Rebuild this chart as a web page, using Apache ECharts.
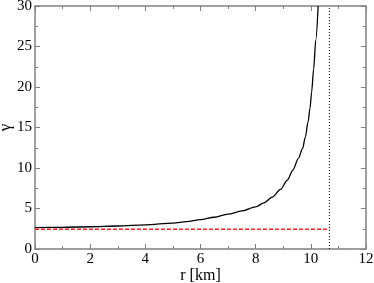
<!DOCTYPE html>
<html><head><meta charset="utf-8">
<script src="https://cdn.jsdelivr.net/npm/echarts@6/dist/echarts.min.js"></script>
<style>html,body{margin:0;padding:0;background:#fff}#c{width:374px;height:283px}</style>
</head><body><div id="c"></div>
<script>
const curveR = [0, 1, 2, 3, 4, 5, 5.5, 6, 6.5, 7, 7.5, 8, 8.3, 8.6, 8.9, 9.15, 9.35, 9.55, 9.7, 9.8, 9.9, 9.97, 10.03, 10.1, 10.18, 10.265];
const curveGamma = [2.65, 2.68, 2.75, 2.84, 2.98, 3.2, 3.38, 3.62, 3.92, 4.3, 4.7, 5.2, 5.7, 6.4, 7.35, 8.5, 9.75, 11.2, 12.4, 13.8, 15.7, 17.4, 19.4, 22.2, 25.8, 30];
const limitR = [0, 10.67];
const limitGamma = [2.43, 2.43];
const edgeR = [10.675, 10.675];
const edgeGamma = [0, 30];
const xTicks = [0, 2, 4, 6, 8, 10, 12];
const yTicks = [0, 5, 10, 15, 20, 25, 30];

const pair = (a, b) => a.map((v, i) => [v, b[i]]);
const font = 'Liberation Serif';
const axisCol = '#808080';
const red = '#ff2020';
const chart = echarts.init(document.getElementById('c'), null, {renderer: 'canvas'});
const baseX = {
  type: 'value', min: xTicks[0], max: xTicks[xTicks.length - 1], interval: 2,
  axisLine: {show: true, onZero: false, lineStyle: {color: axisCol, width: 1.5}},
  axisTick: {show: true, inside: true, length: 5, lineStyle: {color: axisCol}},
  minorTick: {show: true, splitNumber: 2, length: 3, lineStyle: {color: axisCol}},
  splitLine: {show: false}
};
const baseY = {
  type: 'value', min: yTicks[0], max: yTicks[yTicks.length - 1], interval: 5,
  axisLine: {show: true, onZero: false, lineStyle: {color: axisCol, width: 1.5}},
  axisTick: {show: true, inside: true, length: 5, lineStyle: {color: axisCol}},
  minorTick: {show: true, splitNumber: 2, length: 3, lineStyle: {color: axisCol}},
  splitLine: {show: false}
};
chart.setOption({
  animation: false,
  textStyle: {fontFamily: font},
  grid: {left: 35, right: 8, top: 6, bottom: 34, containLabel: false, outerBoundsMode: 'none'},
  xAxis: [
    Object.assign({}, baseX, {
      position: 'bottom', name: 'r [km]', nameLocation: 'middle', nameGap: 19, nameMoveOverlap: false,
      nameTextStyle: {fontFamily: font, fontSize: 16, color: '#000'},
      axisLabel: {fontFamily: font, fontSize: 15, color: '#000', margin: 3}
    }),
    Object.assign({}, baseX, {position: 'top', axisLabel: {show: false}})
  ],
  yAxis: [
    Object.assign({}, baseY, {
      position: 'left', name: 'γ', nameLocation: 'middle', nameGap: 21, nameRotate: 90, nameMoveOverlap: false,
      nameTextStyle: {fontFamily: font, fontSize: 17, color: '#000'},
      axisLabel: {fontFamily: font, fontSize: 15, color: '#000', margin: 3}
    }),
    Object.assign({}, baseY, {position: 'right', axisLabel: {show: false}})
  ],
  series: [
    {type: 'line', data: pair(curveR, curveGamma), smooth: 0.3, smoothMonotone: 'x', symbol: 'none',
     color: '#000', lineStyle: {color: '#000', width: 1.3}, clip: true},
    {type: 'line', data: pair(limitR, limitGamma), symbol: 'none', color: red,
     itemStyle: {color: red}, lineStyle: {color: red, width: 1.4, type: [4, 2], opacity: 1}},
    {type: 'line', data: pair(edgeR, edgeGamma), symbol: 'none', color: '#000',
     lineStyle: {color: '#000', width: 1, type: [1, 2]}}
  ]
});
</script></body></html>
